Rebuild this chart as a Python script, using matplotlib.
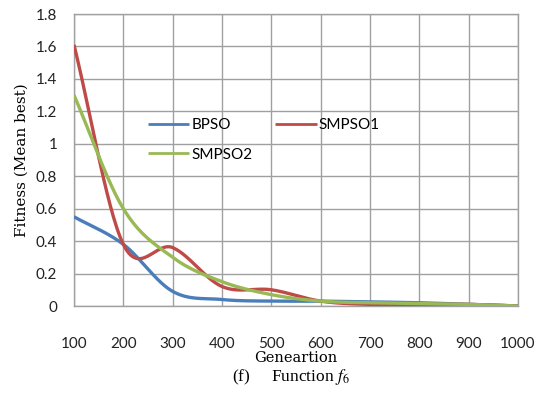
import numpy as np
import matplotlib
matplotlib.use("Agg")
import matplotlib.pyplot as plt

plt.rcParams["mathtext.fontset"] = "stix"

generations = [100, 200, 300, 400, 500, 600, 700, 800, 900, 1000]
bpso = [0.55, 0.38, 0.09, 0.04, 0.03, 0.03, 0.025, 0.02, 0.01, 0.0]
smpso1 = [1.61, 0.38, 0.36, 0.12, 0.10, 0.03, 0.01, 0.01, 0.01, 0.0]
smpso2 = [1.30, 0.60, 0.30, 0.15, 0.07, 0.03, 0.02, 0.015, 0.01, 0.0]
x_ticks = [100, 200, 300, 400, 500, 600, 700, 800, 900, 1000]
y_ticks = [0, 0.2, 0.4, 0.6, 0.8, 1, 1.2, 1.4, 1.6, 1.8]
y_ticklabels = ["0", "0.2", "0.4", "0.6", "0.8", "1", "1.2", "1.4", "1.6", "1.8"]


def smooth(x, y, n=30):
    # Catmull-Rom style smoothing similar to Excel "smoothed line"
    x = np.asarray(x, float)
    y = np.asarray(y, float)
    px = np.concatenate([[2 * x[0] - x[1]], x, [2 * x[-1] - x[-2]]])
    py = np.concatenate([[2 * y[0] - y[1]], y, [2 * y[-1] - y[-2]]])
    xs, ys = [], []
    t = np.linspace(0, 1, n, endpoint=False)
    for i in range(1, len(px) - 2):
        p0, p1, p2, p3 = (np.array([px[j], py[j]]) for j in range(i - 1, i + 3))
        t2, t3 = t * t, t * t * t
        pts = 0.5 * ((2 * p1)[None, :] + np.outer(t, -p0 + p2)
                     + np.outer(t2, 2 * p0 - 5 * p1 + 4 * p2 - p3)
                     + np.outer(t3, -p0 + 3 * p1 - 3 * p2 + p3))
        xs.extend(pts[:, 0]); ys.extend(pts[:, 1])
    xs.append(x[-1]); ys.append(y[-1])
    return np.array(xs), np.array(ys)


fig = plt.figure(figsize=(5.39, 3.94), dpi=100)
ax = fig.add_axes([74 / 539, 1 - 306 / 394, (518 - 74) / 539, (306 - 14) / 394])

tick_font = "Lato"
colors = {"BPSO": "#4a7ebb", "SMPSO1": "#be4b48", "SMPSO2": "#98b954"}
series = [("BPSO", bpso), ("SMPSO1", smpso1), ("SMPSO2", smpso2)]
lines = {}
for name, vals in series:
    sx, sy = smooth(generations, vals)
    lines[name], = ax.plot(sx, sy, color=colors[name], lw=2.4, solid_capstyle="butt", zorder=3)

ax.set_xlim(100, 1000)
ax.set_ylim(0, 1.8)
ax.set_xticks(x_ticks)
ax.set_yticks(y_ticks)
ax.set_yticklabels(y_ticklabels)
ax.grid(True, color="#a0a0a0", lw=1.0)
ax.set_axisbelow(True)
for s in ax.spines.values():
    s.set_color("#a0a0a0")
    s.set_linewidth(1.0)
ax.tick_params(axis="both", length=0, labelsize=11, colors="#222222")
ax.tick_params(axis="x", pad=22)
ax.tick_params(axis="y", pad=12)
for lbl in ax.get_xticklabels() + ax.get_yticklabels():
    lbl.set_fontfamily(tick_font)

ax.set_xlabel("Geneartion", family="DejaVu Serif", fontsize=10.5, labelpad=0)
ax.set_ylabel("Fitness (Mean best)", family="DejaVu Serif", fontsize=11, labelpad=5)

leg = ax.legend([lines["BPSO"], lines["SMPSO2"], lines["SMPSO1"]],
                ["BPSO", "SMPSO2", "SMPSO1"], ncol=2, frameon=False,
                loc="upper left", bbox_to_anchor=(0.135, 0.69),
                prop={"family": tick_font, "size": 11}, handlelength=2.7,
                handletextpad=0.15, columnspacing=1.5, labelspacing=1.0)
for h in leg.get_lines():
    h.set_linewidth(2.0)

fig.text(0.54, 1 - 377 / 394, r"(f)     Function $f_6$", ha="center", va="center",
         family="Liberation Serif", fontsize=12.5)

fig.savefig("out.png", dpi=100)
